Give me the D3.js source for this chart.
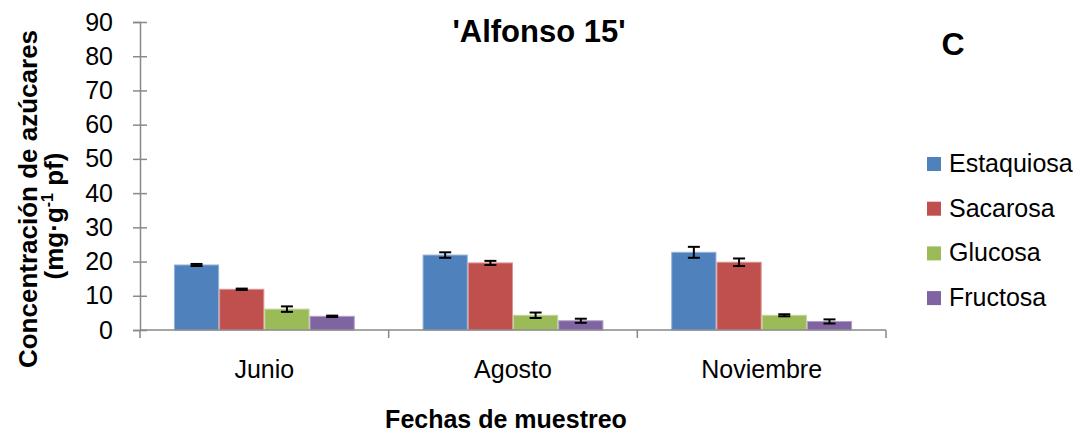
<!DOCTYPE html>
<html>
<head>
<meta charset="utf-8">
<script src="https://cdn.jsdelivr.net/npm/d3@7/dist/d3.min.js"></script>
<style>
  html, body { margin: 0; padding: 0; background: #fff; }
  svg { display: block; font-family: Arial, "Liberation Sans", sans-serif; }
</style>
</head>
<body>
<svg id="chart" width="1086" height="434"></svg>
<script>
// Sampling dates and sugar series
const categories = ["Junio", "Agosto", "Noviembre"];
const seriesNames = ["Estaquiosa", "Sacarosa", "Glucosa", "Fructosa"];
const seriesColors = ["#4F81BD", "#C0504D", "#9BBB59", "#8064A2"];
const seriesBorders = ["#95B3D7", "#DA9694", "#C3D69B", "#B1A0C7"];

// Mean concentration (mg·g-1 pf), one array per sugar, in category order
const estaquiosa = [19.0, 21.9, 22.7];
const sacarosa   = [11.9, 19.6, 19.8];
const glucosa    = [6.1, 4.3, 4.3];
const fructosa   = [4.0, 2.7, 2.5];

// Standard error for each mean
const estaquiosaErr = [0.3, 0.8, 1.6];
const sacarosaErr   = [0.2, 0.6, 1.1];
const glucosaErr    = [0.8, 0.8, 0.3];
const fructosaErr   = [0.2, 0.6, 0.6];

const yTicks = [0, 10, 20, 30, 40, 50, 60, 70, 80, 90];

const values = [estaquiosa, sacarosa, glucosa, fructosa];
const errors = [estaquiosaErr, sacarosaErr, glucosaErr, fructosaErr];

const svg = d3.select("#chart");
const axisColor = "#898989";

const plot = { left: 140, right: 886, top: 22, bottom: 330 };

const x0 = d3.scaleBand().domain(categories).range([plot.left, plot.right]).padding(0);
const x1 = d3.scaleBand().domain(seriesNames).range([0, x0.bandwidth()])
  .paddingInner(0).paddingOuter(0.75);
const y = d3.scaleLinear().domain([0, 90]).range([plot.bottom, plot.top]);

// Bars
const groups = svg.append("g").selectAll("g")
  .data(categories)
  .join("g")
  .attr("transform", d => `translate(${x0(d)},0)`);

groups.each(function(cat, ci) {
  const g = d3.select(this);
  seriesNames.forEach((s, si) => {
    const v = values[si][ci];
    g.append("rect")
      .attr("x", x1(s) + 0.5)
      .attr("y", y(v))
      .attr("width", x1.bandwidth() - 1)
      .attr("height", y(0) - y(v))
      .attr("fill", seriesColors[si])
      .attr("stroke", seriesBorders[si])
      .attr("stroke-width", 1);
  });
});

// Error bars
groups.each(function(cat, ci) {
  const g = d3.select(this);
  seriesNames.forEach((s, si) => {
    const v = values[si][ci], e = errors[si][ci];
    const cx = x1(s) + x1.bandwidth() / 2;
    const eb = g.append("g").attr("stroke", "#000").attr("stroke-width", 2);
    eb.append("line").attr("x1", cx).attr("x2", cx).attr("y1", y(v - e)).attr("y2", y(v + e));
    eb.append("line").attr("x1", cx - 6).attr("x2", cx + 6).attr("y1", y(v + e)).attr("y2", y(v + e));
    eb.append("line").attr("x1", cx - 6).attr("x2", cx + 6).attr("y1", y(v - e)).attr("y2", y(v - e));
  });
});

// Y axis with ticks crossing the axis line
const yAxis = svg.append("g")
  .attr("transform", `translate(${plot.left},0)`)
  .call(d3.axisLeft(y).tickValues(yTicks).tickSize(7).tickPadding(20).tickFormat(d3.format("d")));
yAxis.select(".domain").attr("stroke", axisColor).attr("stroke-width", 1.5);
yAxis.selectAll(".tick line").attr("x1", 7).attr("stroke", axisColor).attr("stroke-width", 1.5);
yAxis.selectAll(".tick text")
  .attr("font-size", 25).attr("fill", "#000")
  .attr("font-family", "Arial, 'Liberation Sans', sans-serif");

// X axis: line with tick marks at category boundaries
const xAxis = svg.append("g");
xAxis.append("line")
  .attr("x1", plot.left).attr("x2", plot.right)
  .attr("y1", y(0)).attr("y2", y(0))
  .attr("stroke", axisColor).attr("stroke-width", 1.5);
const boundaries = categories.map(c => x0(c)).concat([x0(categories[categories.length - 1]) + x0.bandwidth()]);
xAxis.selectAll("line.tick").data(boundaries).join("line")
  .attr("class", "tick")
  .attr("x1", d => d).attr("x2", d => d)
  .attr("y1", y(0)).attr("y2", y(0) + 8)
  .attr("stroke", axisColor).attr("stroke-width", 1.5);
xAxis.selectAll("text").data(categories).join("text")
  .attr("x", d => x0(d) + x0.bandwidth() / 2)
  .attr("y", 378)
  .attr("text-anchor", "middle")
  .attr("font-size", 25)
  .text(d => d);

// Titles
svg.append("text")
  .attr("x", 539).attr("y", 42)
  .attr("text-anchor", "middle")
  .attr("font-size", 31).attr("font-weight", "bold")
  .text("'Alfonso 15'");

svg.append("text")
  .attr("x", 953).attr("y", 55)
  .attr("text-anchor", "middle")
  .attr("font-size", 32).attr("font-weight", "bold")
  .text("C");

svg.append("text")
  .attr("x", 506).attr("y", 428)
  .attr("text-anchor", "middle")
  .attr("font-size", 25).attr("font-weight", "bold")
  .text("Fechas de muestreo");

// Y axis title, two lines
const yTitle = svg.append("g").attr("font-weight", "bold").attr("font-size", 26);
yTitle.append("text")
  .attr("transform", "translate(37,199) rotate(-90)")
  .attr("text-anchor", "middle")
  .text("Concentración de azúcares");
const l2 = yTitle.append("text")
  .attr("transform", "translate(63,216) rotate(-90)")
  .attr("text-anchor", "middle");
l2.append("tspan").text("(mg·g");
l2.append("tspan").attr("font-size", 16).attr("dy", -10).text("-1");
l2.append("tspan").attr("dy", 10).text(" pf)");

// Legend
const legend = svg.append("g");
seriesNames.forEach((s, i) => {
  const ly = 172 + i * 44.7;
  legend.append("rect")
    .attr("x", 927).attr("y", ly - 15)
    .attr("width", 14).attr("height", 14)
    .attr("fill", seriesColors[i]);
  legend.append("text")
    .attr("x", 949).attr("y", ly)
    .attr("font-size", 25)
    .text(s);
});
</script>
</body>
</html>
